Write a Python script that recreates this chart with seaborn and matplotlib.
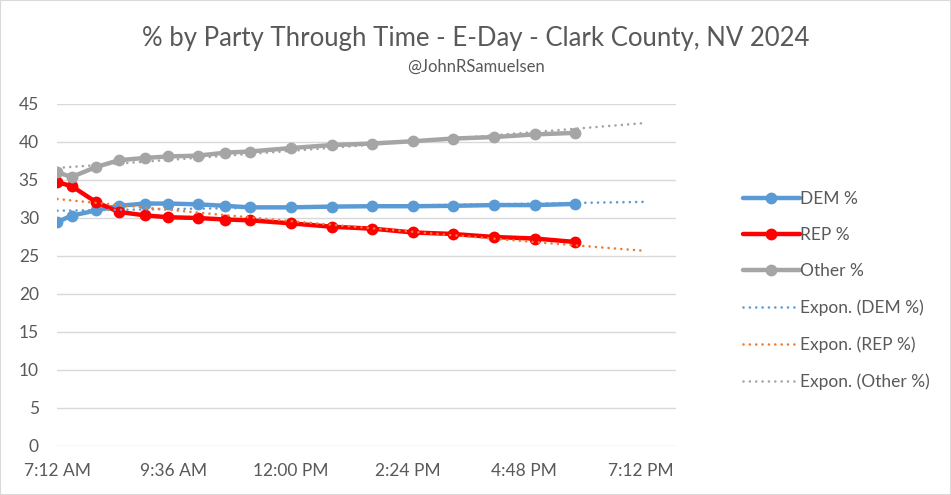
import numpy as np
import pandas as pd
import matplotlib
matplotlib.use("Agg")
import matplotlib.pyplot as plt
from matplotlib.lines import Line2D
from matplotlib.patches import Rectangle
import seaborn as sns

# values (time in hours of the day)
hours = [7.21, 7.5, 8.0, 8.47, 9.0, 9.49, 10.09, 10.66, 11.16, 12.0, 12.85,
         13.67, 14.51, 15.33, 16.18, 17.02, 17.84]
dem_pct = [29.5, 30.3, 31.0, 31.6, 31.9, 31.9, 31.8, 31.6, 31.4, 31.4, 31.5,
           31.55, 31.55, 31.6, 31.7, 31.7, 31.85]
rep_pct = [34.7, 34.2, 32.1, 30.8, 30.35, 30.1, 30.0, 29.8, 29.7, 29.3, 28.85,
           28.6, 28.1, 27.9, 27.5, 27.3, 26.85]
other_pct = [36.0, 35.4, 36.7, 37.6, 37.9, 38.1, 38.2, 38.6, 38.75, 39.2, 39.6,
             39.8, 40.1, 40.45, 40.65, 41.0, 41.2]

tick_hours = [7.2, 9.6, 12.0, 14.4, 16.8, 19.2]
tick_labels = ["7:12 AM", "9:36 AM", "12:00 PM", "2:24 PM", "4:48 PM", "7:12 PM"]
forecast_end = 19.3

series = {"DEM %": dem_pct, "REP %": rep_pct, "Other %": other_pct}
colors = {"DEM %": "#5B9BD5", "REP %": "#FF0000", "Other %": "#A5A5A5"}
trend_colors = {"DEM %": "#5B9BD5", "REP %": "#ED7D31", "Other %": "#A5A5A5"}

df = pd.DataFrame({"hour": hours, **series})
long_df = df.melt(id_vars="hour", var_name="party", value_name="pct")

sns.set_style("white")
plt.rcParams["font.family"] = ["Lato", "DejaVu Sans"]
text_col = "#595959"
dots = (0, (0.01, 2.4))

fig = plt.figure(figsize=(9.51, 4.95), dpi=100)
ax = fig.add_axes([57 / 951, 49 / 495, 619 / 951, 342 / 495])

# exponential trend lines (least squares on log values, like Excel)
x_trend = np.linspace(hours[0], forecast_end, 100)
for name, vals in series.items():
    b, ln_a = np.polyfit(hours, np.log(vals), 1)
    trend = pd.DataFrame({"hour": x_trend, "pct": np.exp(ln_a + b * x_trend)})
    sns.lineplot(data=trend, x="hour", y="pct", ax=ax, color=trend_colors[name],
                 lw=1.9, linestyle=dots, dash_capstyle="round", zorder=3)

sns.lineplot(data=long_df, x="hour", y="pct", hue="party", palette=colors,
             marker="o", markersize=8.5, markeredgewidth=0, lw=3.2,
             ax=ax, legend=False, zorder=2)

ax.set_xlim(7.2, 19.92)
ax.set_ylim(0, 45)
ax.set_xticks(tick_hours)
ax.set_xticklabels(tick_labels)
ax.set_yticks(range(0, 46, 5))
ax.set_xlabel("")
ax.set_ylabel("")
ax.grid(axis="y", color="#D9D9D9", lw=1)
ax.grid(axis="x", visible=False)
for s in ax.spines.values():
    s.set_visible(False)
ax.tick_params(axis="both", length=0, labelsize=12.5, labelcolor=text_col)
ax.tick_params(axis="y", pad=13)
ax.tick_params(axis="x", pad=12)

fig.text(0.5, 0.923, "% by Party Through Time - E-Day - Clark County, NV 2024",
         ha="center", va="center", fontsize=18.5, color=text_col)
fig.text(0.5, 0.866, "@JohnRSamuelsen", ha="center", va="center",
         fontsize=12, color=text_col)

handles = []
for name in series:
    handles.append(Line2D([], [], color=colors[name], lw=3.2, marker="o",
                          markersize=8.5, markeredgewidth=0, label=name))
for name in series:
    handles.append(Line2D([], [], color=trend_colors[name], lw=1.9,
                          linestyle=dots, dash_capstyle="round",
                          label=f"Expon. ({name})"))
leg = fig.legend(handles=handles, loc="upper left", bbox_to_anchor=(727 / 951, 1 - 175 / 495),
                 frameon=False, fontsize=12.5, labelspacing=1.17, handlelength=3.3,
                 handletextpad=0.0, labelcolor=text_col)

fig.patches.append(Rectangle((0, 0), 1, 1, transform=fig.transFigure, fill=False,
                             edgecolor="#D9D9D9", lw=1.5))

fig.savefig("out.png", dpi=100)
